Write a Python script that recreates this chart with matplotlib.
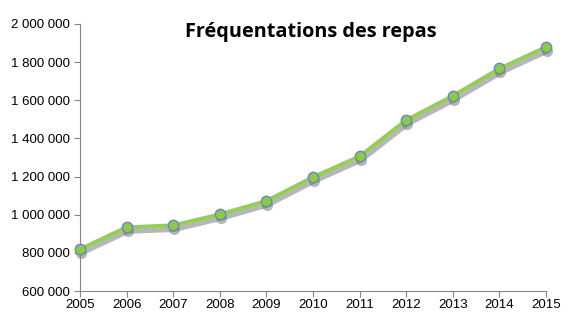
import matplotlib
matplotlib.use("Agg")
import matplotlib.pyplot as plt
from matplotlib.transforms import ScaledTranslation
from matplotlib.ticker import FuncFormatter

annees = [2005, 2006, 2007, 2008, 2009, 2010, 2011, 2012, 2013, 2014, 2015]
repas = [820000, 935000, 945000, 1003000, 1073000, 1198000, 1307000,
         1497000, 1624000, 1767000, 1880000]

def espaces(v, pos):
    # séparateur de milliers à la française
    return f"{int(v):,}".replace(",", " ")

fig = plt.figure(figsize=(5.82, 3.22), dpi=100)
ax = fig.add_axes([80/582, 1 - 291/322, 466/582, 267/322])

# ombre portée : même courbe décalée vers le bas
decal = ax.transData + ScaledTranslation(1/100, -4/100, fig.dpi_scale_trans)
ax.plot(annees, repas, color="#6e6e78", lw=4, alpha=0.5, marker="o",
        markersize=8, markeredgewidth=0, transform=decal, zorder=2,
        clip_on=False, solid_capstyle="round")
ax.plot(annees, repas, color="#92D050", lw=2.6, marker="o", markersize=7.5,
        markerfacecolor="#8CC850", markeredgecolor="#6A8CA8", markeredgewidth=1,
        zorder=3, clip_on=False)

ax.set_xlim(2005, 2015)
ax.set_ylim(600000, 2000000)
ax.set_xticks(annees)
ax.set_yticks(range(600000, 2000001, 200000))
ax.yaxis.set_major_formatter(FuncFormatter(espaces))

for s in ["top", "right"]:
    ax.spines[s].set_visible(False)
for s in ["left", "bottom"]:
    ax.spines[s].set_color("#868686")
ax.tick_params(axis="both", colors="#868686", length=4, labelcolor="black",
               labelsize=9.5)
for lab in ax.get_xticklabels() + ax.get_yticklabels():
    lab.set_family("Liberation Sans")
ax.tick_params(axis="x", pad=2)

fig.text(311/582, 1 - 32/322, "Fréquentations des repas", ha="center", va="center",
         fontsize=14.3, fontweight="bold", family="Open Sans")

fig.savefig("out.png", dpi=100)
